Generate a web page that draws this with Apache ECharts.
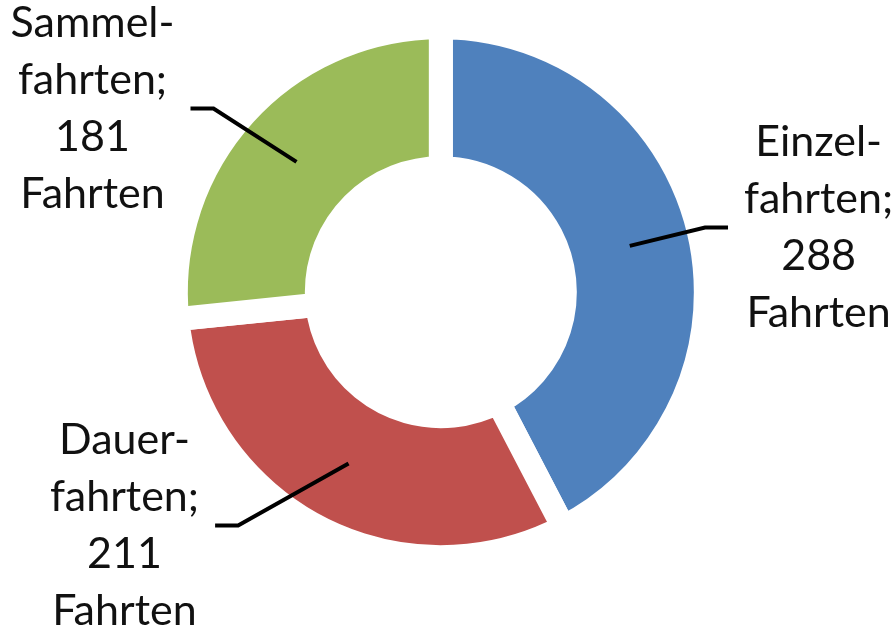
<!DOCTYPE html>
<html>
<head>
<meta charset="utf-8">
<script src="https://cdn.jsdelivr.net/npm/echarts@6/dist/echarts.min.js"></script>
<style>
html,body{margin:0;padding:0;background:#fff;}
#main{width:896px;height:627px;}
</style>
</head>
<body>
<div id="main"></div>
<script>
var categories = ['Einzel-\nfahrten', 'Dauer-\nfahrten', 'Sammel-\nfahrten'];
var values = [288, 211, 181];
var unit = 'Fahrten';
var colors = ['#4F81BD', '#C0504D', '#9BBB59'];

var chart = echarts.init(document.getElementById('main'));
var centerPct = [0.492, 0.466];
var rInner = 124, rOuter = 265, gap = 24;
// leader line lengths per slice (style only)
var lineLen = [7, 0, 9];
var lineLen2 = [23, 100, 47];

var center = [centerPct[0] * 100 + '%', centerPct[1] * 100 + '%'];

var ringData = categories.map(function (c, i) {
  return { name: c, value: values[i], itemStyle: { color: colors[i] } };
});
var labelData = categories.map(function (c, i) {
  return { name: c, value: values[i], labelLine: { length: lineLen[i], length2: lineLen2[i] } };
});

chart.setOption({
  animation: false,
  backgroundColor: '#ffffff',
  series: [{
    type: 'pie',
    center: center,
    radius: [rInner, rOuter],
    startAngle: 90,
    clockwise: true,
    silent: true,
    itemStyle: { borderColor: '#ffffff', borderWidth: gap },
    label: { show: false },
    labelLine: { show: false },
    data: ringData
  }, {
    type: 'pie',
    z: 5,
    center: center,
    radius: [rInner, rOuter],
    startAngle: 90,
    clockwise: true,
    silent: true,
    avoidLabelOverlap: false,
    itemStyle: { color: 'rgba(0,0,0,0)', borderWidth: 0 },
    label: {
      show: true,
      position: 'outside',
      distanceToLabelLine: 16,
      formatter: function (p) {
        var lines = (p.name + ';').split('\n').concat([String(p.value), unit]);
        return lines.map(function (l) { return '{c|' + l + '}'; }).join('\n');
      },
      rich: {
        c: { fontFamily: 'Lato', fontSize: 43, lineHeight: 57, color: '#111', align: 'center' }
      }
    },
    labelLine: {
      show: true,
      smooth: false,
      lineStyle: { color: '#000', width: 4 }
    },
    labelLayout: function (params) {
      var pts = params.labelLinePoints;
      if (!pts) return {};
      var cx = chart.getWidth() * centerPct[0];
      var cy = chart.getHeight() * centerPct[1];
      var dx = pts[0][0] - cx, dy = pts[0][1] - cy;
      var d = Math.sqrt(dx * dx + dy * dy);
      var rm = (rInner + rOuter) / 2;
      var side = pts[2][0] < pts[1][0] ? 1 : -1;
      var p2 = pts[2];
      var p1 = [p2[0] + side * 23, p2[1]];
      return {
        labelLinePoints: [[cx + dx / d * rm, cy + dy / d * rm], p1, p2]
      };
    },
    data: labelData
  }]
});
</script>
</body>
</html>
